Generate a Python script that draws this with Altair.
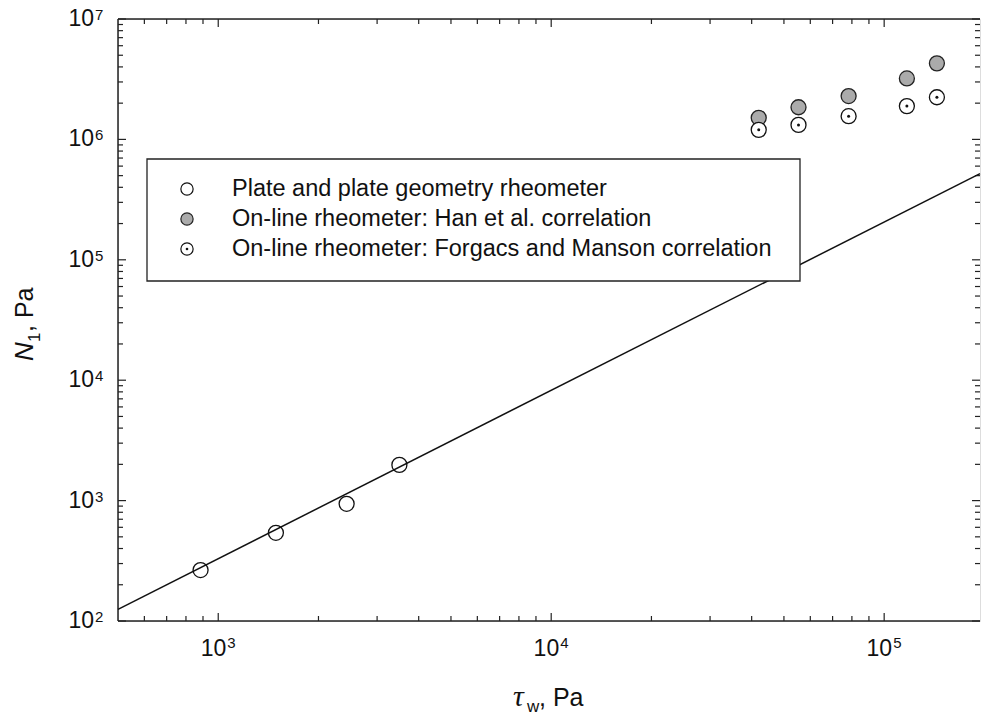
import altair as alt
import pandas as pd

# Wall shear stress (Pa) and first normal stress difference N1 (Pa)
plate_tau = [885, 1490, 2430, 3500]
plate_n1 = [265, 540, 940, 1980]

online_tau = [42000, 55300, 78200, 117000, 144000]
han_n1 = [1.51e6, 1.85e6, 2.29e6, 3.21e6, 4.28e6]
forgacs_n1 = [1.20e6, 1.32e6, 1.56e6, 1.89e6, 2.24e6]

# Power-law fit through the plate-and-plate data
fit_tau = [500, 194000]
fit_n1 = [125, 5.2e5]

x_decades = [3, 4, 5]
y_decades = [2, 3, 4, 5, 6, 7]

legend_labels = [
    "Plate and plate geometry rheometer",
    "On-line rheometer: Han et al. correlation",
    "On-line rheometer: Forgacs and Manson correlation",
]

X_MIN, X_MAX = 500, 194000
Y_MIN, Y_MAX = 100, 1e7
W, H = 862, 602
SANS = "Liberation Sans"
SERIF = "Liberation Serif"

xs = alt.Scale(type="log", domain=[X_MIN, X_MAX], nice=False)
ys = alt.Scale(type="log", domain=[Y_MIN, Y_MAX], nice=False)


def X(field):
    return alt.X(f"{field}:Q", scale=xs, axis=None)


def Y(field):
    return alt.Y(f"{field}:Q", scale=ys, axis=None)


one = pd.DataFrame({"k": [0]})
layers = []

# frame: left, top and bottom spines
layers.append(alt.Chart(one).mark_rule(color="#222", strokeWidth=1.5).encode(
    x=alt.value(0), y=alt.value(0), y2=alt.value(H)))
layers.append(alt.Chart(one).mark_rule(color="#222", strokeWidth=1.5).encode(
    x=alt.value(0), x2=alt.value(W), y=alt.value(0)))
layers.append(alt.Chart(one).mark_rule(color="#222", strokeWidth=1.5).encode(
    x=alt.value(0), x2=alt.value(W), y=alt.value(H)))

# inward ticks on all four sides
major_x = [10 ** e for e in x_decades]
minor_x = [m * 10 ** e for e in range(2, 6) for m in range(2, 10)
           if X_MIN < m * 10 ** e < X_MAX]
major_y = [10 ** e for e in y_decades]
minor_y = [m * 10 ** e for e in range(2, 7) for m in range(2, 10)]

for vals, ln in ((major_x, 8), (minor_x, 5)):
    df = pd.DataFrame({"v": vals})
    layers.append(alt.Chart(df).mark_rule(color="#222", strokeWidth=1.2).encode(
        x=X("v"), y=alt.value(H), y2=alt.value(H - ln)))
    layers.append(alt.Chart(df).mark_rule(color="#222", strokeWidth=1.2).encode(
        x=X("v"), y=alt.value(0), y2=alt.value(ln)))
for vals, ln in ((major_y, 8), (minor_y, 5)):
    df = pd.DataFrame({"v": vals})
    layers.append(alt.Chart(df).mark_rule(color="#222", strokeWidth=1.2).encode(
        y=Y("v"), x=alt.value(0), x2=alt.value(ln)))
    layers.append(alt.Chart(df).mark_rule(color="#222", strokeWidth=1.2).encode(
        y=Y("v"), x=alt.value(W), x2=alt.value(W - ln)))

# tick labels as powers of ten
xlab = pd.DataFrame({"v": major_x, "base": ["10"] * len(x_decades),
                     "exp": [str(e) for e in x_decades]})
layers.append(alt.Chart(xlab).mark_text(
    align="right", baseline="alphabetic", dx=8, fontSize=23, font=SANS, color="#111"
).encode(x=X("v"), y=alt.value(H + 35), text="base:N"))
layers.append(alt.Chart(xlab).mark_text(
    align="left", baseline="alphabetic", dx=9, fontSize=15, font=SANS, color="#111"
).encode(x=X("v"), y=alt.value(H + 27), text="exp:N"))

ylab = pd.DataFrame({"v": major_y, "base": ["10"] * len(y_decades),
                     "exp": [str(e) for e in y_decades]})
layers.append(alt.Chart(ylab).mark_text(
    align="right", baseline="middle", fontSize=23, font=SANS, color="#111"
).encode(y=Y("v"), x=alt.value(-24), text="base:N"))
layers.append(alt.Chart(ylab).mark_text(
    align="left", baseline="alphabetic", dy=1, fontSize=15, font=SANS, color="#111"
).encode(y=Y("v"), x=alt.value(-23), text="exp:N"))

# fitted line
fit = pd.DataFrame({"tau": fit_tau, "n1": fit_n1})
layers.append(alt.Chart(fit).mark_line(color="#111", strokeWidth=1.5).encode(
    x=X("tau"), y=Y("n1")))

# data points
plate = pd.DataFrame({"tau": plate_tau, "n1": plate_n1})
layers.append(alt.Chart(plate).mark_point(
    shape="circle", size=225, filled=False, color="#111", strokeWidth=1.3, opacity=1
).encode(x=X("tau"), y=Y("n1")))

han = pd.DataFrame({"tau": online_tau, "n1": han_n1})
layers.append(alt.Chart(han).mark_point(
    shape="circle", size=225, filled=True, fill="#ababab", stroke="#222",
    strokeWidth=1.3, opacity=1
).encode(x=X("tau"), y=Y("n1")))

forg = pd.DataFrame({"tau": online_tau, "n1": forgacs_n1})
layers.append(alt.Chart(forg).mark_point(
    shape="circle", size=225, filled=True, fill="white", stroke="#111",
    strokeWidth=1.3, opacity=1
).encode(x=X("tau"), y=Y("n1")))
layers.append(alt.Chart(forg).mark_point(
    shape="circle", size=9, filled=True, color="#111", opacity=1
).encode(x=X("tau"), y=Y("n1")))

# legend box
layers.append(alt.Chart(one).mark_rect(fill="white", stroke="#222", strokeWidth=1.3).encode(
    x=alt.value(29), x2=alt.value(682), y=alt.value(140), y2=alt.value(262)))
LX, LY0, LDY = 69, 170, 30
layers.append(alt.Chart(one).mark_point(
    shape="circle", size=150, filled=False, color="#111", strokeWidth=1.2, opacity=1
).encode(x=alt.value(LX), y=alt.value(LY0)))
layers.append(alt.Chart(one).mark_point(
    shape="circle", size=150, filled=True, fill="#ababab", stroke="#222",
    strokeWidth=1.2, opacity=1
).encode(x=alt.value(LX), y=alt.value(LY0 + LDY)))
layers.append(alt.Chart(one).mark_point(
    shape="circle", size=150, filled=True, fill="white", stroke="#111",
    strokeWidth=1.2, opacity=1
).encode(x=alt.value(LX), y=alt.value(LY0 + 2 * LDY)))
layers.append(alt.Chart(one).mark_point(
    shape="circle", size=7, filled=True, color="#111", opacity=1
).encode(x=alt.value(LX), y=alt.value(LY0 + 2 * LDY)))
for i, lab in enumerate(legend_labels):
    layers.append(alt.Chart(one).mark_text(
        text=lab, align="left", baseline="middle", fontSize=23.5, font=SANS, color="#111"
    ).encode(x=alt.value(114), y=alt.value(LY0 + i * LDY)))

# axis titles: tau_w, Pa  and  N_1, Pa
layers.append(alt.Chart(one).mark_text(
    text="τ", align="left", baseline="alphabetic", fontSize=30, font=SERIF,
    fontStyle="italic", color="#111"
).encode(x=alt.value(395), y=alt.value(687)))
layers.append(alt.Chart(one).mark_text(
    text="w", align="left", baseline="alphabetic", fontSize=17, font=SANS, color="#111"
).encode(x=alt.value(409), y=alt.value(693)))
layers.append(alt.Chart(one).mark_text(
    text=", Pa", align="left", baseline="alphabetic", fontSize=25, font=SANS, color="#111"
).encode(x=alt.value(421), y=alt.value(687)))

layers.append(alt.Chart(one).mark_text(
    text="N", align="left", baseline="alphabetic", angle=270, fontSize=26, font=SANS,
    fontStyle="italic", color="#111"
).encode(x=alt.value(-85), y=alt.value(342)))
layers.append(alt.Chart(one).mark_text(
    text="1", align="left", baseline="alphabetic", angle=270, fontSize=17, font=SANS,
    color="#111"
).encode(x=alt.value(-78), y=alt.value(323)))
layers.append(alt.Chart(one).mark_text(
    text=", Pa", align="left", baseline="alphabetic", angle=270, fontSize=25, font=SANS,
    color="#111"
).encode(x=alt.value(-85), y=alt.value(313)))

chart = alt.layer(*layers).properties(
    width=W, height=H, autosize="none",
    padding={"left": 118, "top": 19, "right": 1, "bottom": 103},
).configure_view(stroke=None).configure(background="white")

chart.save("out.html", embed_options={"renderer": "svg", "actions": False})
